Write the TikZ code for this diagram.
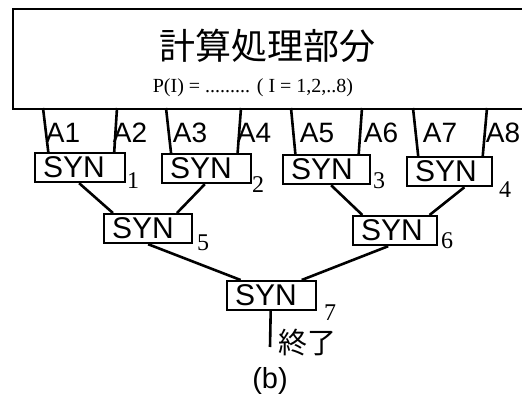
\documentclass[tikz,border=0pt]{standalone}
\usepackage{fontspec}
\setmainfont{Liberation Serif}
\newfontfamily\sansf{Liberation Sans}
\newfontfamily\cjk{Noto Sans CJK JP}
\usetikzlibrary{calc}
\begin{document}
\begin{tikzpicture}[x=1pt,y=-1pt,
  wire/.style={line width=2.6pt},
  synbox/.style={draw, line width=2.2pt, minimum height=29pt, inner xsep=8pt, inner ysep=0pt,
    text width=#1, align=left, anchor=north west, font=\sansf\fontsize{30}{30}\selectfont},
  alabel/.style={font=\sansf\fontsize{28}{30}\selectfont, inner sep=0pt},
  subnum/.style={font=\fontsize{24}{26}\selectfont, inner sep=0pt}]
\useasboundingbox (0,0) rectangle (522,396);
\fill[white] (0,0) rectangle (522,396);
% top processing box
\node[draw, line width=2.3pt, anchor=north west, minimum width=560pt, minimum height=100pt, inner sep=0pt] (comp) at (12,8) {};
\node[font=\cjk\fontsize{36}{38}\selectfont, inner sep=0pt] (title) at (267,46) {計算処理部分};
\node[font=\fontsize{20}{22}\selectfont, inner sep=0pt] (formula) at (253,88) {P(I) = ......... ( I = 1,2,..8)};
% SYN boxes
\node[synbox=74pt] (syn1) at (34,152) {SYN};
\node[synbox=73pt] (syn2) at (161,153) {SYN};
\node[synbox=71pt] (syn3) at (282,154) {SYN};
\node[synbox=69pt] (syn4) at (406,156) {SYN};
\node[synbox=72pt] (syn5) at (103,213) {SYN};
\node[synbox=68pt] (syn6) at (352,215) {SYN};
\node[synbox=73pt] (syn7) at (226,280) {SYN};
% subscripts
\node[subnum] (n1) at (133,181) {1};
\node[subnum] (n2) at (258,185) {2};
\node[subnum] (n3) at (379,181) {3};
\node[subnum] (n4) at (505,190) {4};
\node[subnum] (n5) at (203,243) {5};
\node[subnum] (n6) at (447,241) {6};
\node[subnum] (n7) at (330,313) {7};
% A lines
\foreach \i/\xt in {1/43, 2/117, 3/166, 4/241, 5/291, 6/362, 7/413, 8/487}{
  \coordinate (at\i) at (\xt,108);
}
\draw[wire] (at1) -- ($(syn1.north west)!0.155!(syn1.north east)$);
\draw[wire] (at2) -- ($(syn1.north west)!0.87!(syn1.north east)$);
\draw[wire] (at3) -- ($(syn2.north west)!0.11!(syn2.north east)$);
\draw[wire] (at4) -- ($(syn2.north west)!0.84!(syn2.north east)$);
\draw[wire] (at5) -- ($(syn3.north west)!0.15!(syn3.north east)$);
\draw[wire] (at6) -- ($(syn3.north west)!0.86!(syn3.north east)$);
\draw[wire] (at7) -- ($(syn4.north west)!0.14!(syn4.north east)$);
\draw[wire] (at8) -- ($(syn4.north west)!0.88!(syn4.north east)$);
% A labels
\node[alabel] (l1) at (63,133) {A1};
\node[alabel] (l2) at (130,133) {A2};
\node[alabel] (l3) at (190,133) {A3};
\node[alabel] (l4) at (254,133) {A4};
\node[alabel] (l5) at (317,133) {A5};
\node[alabel] (l6) at (381,133) {A6};
\node[alabel] (l7) at (440,133) {A7};
\node[alabel] (l8) at (503,133) {A8};
% tree connectors
\draw[wire] ($(syn1.south west)!0.49!(syn1.south east)$) -- ($(syn5.north west)!0.11!(syn5.north east)$);
\draw[wire] ($(syn2.south west)!0.48!(syn2.south east)$) -- ($(syn5.north west)!0.82!(syn5.north east)$);
\draw[wire] ($(syn3.south west)!0.55!(syn3.south east)$) -- ($(syn6.north west)!0.12!(syn6.north east)$);
\draw[wire] ($(syn4.south west)!0.67!(syn4.south east)$) -- ($(syn6.north west)!0.9!(syn6.north east)$);
\draw[wire] ($(syn5.south west)!0.5!(syn5.south east)$) -- ($(syn7.north west)!0.16!(syn7.north east)$);
\draw[wire] ($(syn6.south west)!0.42!(syn6.south east)$) -- ($(syn7.north west)!0.83!(syn7.north east)$);
% end
\coordinate (endpt) at (270,347);
\draw[wire] ($(syn7.south west)!0.49!(syn7.south east)$) -- (endpt);
\node[font=\cjk\fontsize{29}{30}\selectfont, inner sep=0pt] (fin) at (307,343) {終了};
\node[font=\sansf\fontsize{29}{30}\selectfont, inner sep=0pt] (cap) at (270,381) {(b)};
\end{tikzpicture}
\end{document}
